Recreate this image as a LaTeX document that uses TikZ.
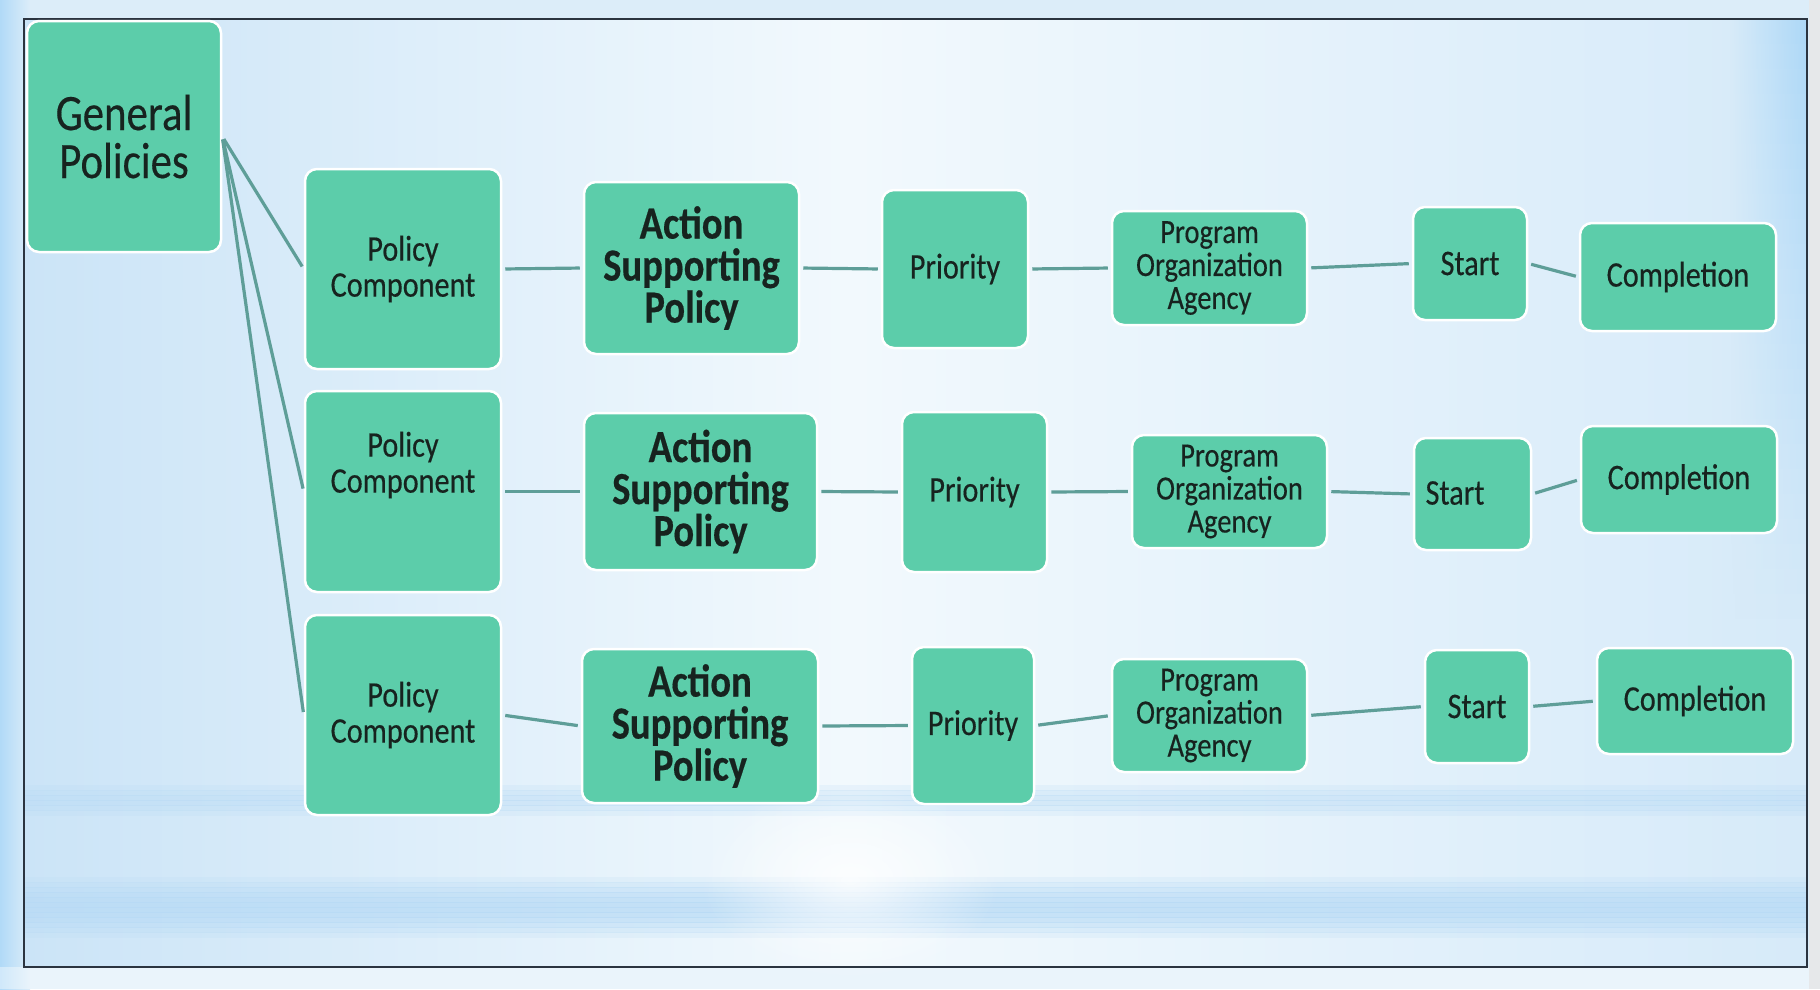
\documentclass[tikz,border=0pt]{standalone}
\usepackage{fontspec}
\setmainfont{Carlito}[FakeStretch=0.84, FakeBold=0.35]
\usetikzlibrary{fadings,calc}
\definecolor{boxfill}{HTML}{5CCDAA}
\definecolor{linecol}{HTML}{5E9E98}
\definecolor{txt}{HTML}{17231F}
\definecolor{pagebg}{HTML}{DCEDF9}
\definecolor{inleft}{HTML}{CBE4F7}
\definecolor{inmid}{HTML}{F2F9FD}
\definecolor{inright}{HTML}{D6EAF9}
\definecolor{bandblue}{HTML}{B7DAF5}
\definecolor{edgeblue}{HTML}{A6D5F7}
\definecolor{rightgray}{HTML}{E6E8EA}
\definecolor{framecol}{HTML}{2B3440}
\tikzfading[name=edgefade, left color=transparent!100, right color=transparent!0]
\tikzfading[name=centerfade, inner color=transparent!0, outer color=transparent!100]
\newcommand{\fsreg}{\fontsize{36}{36}\selectfont}
\newcommand{\fspoa}{\fontsize{34}{33}\selectfont}
\newcommand{\fsasp}{\fontsize{46}{42}\selectfont\bfseries}
\newcommand{\fsgp}{\fontsize{51}{48}\selectfont}
\begin{document}
\begin{tikzpicture}[x=1pt,y=-1pt,
  box/.style={rounded corners=12pt, fill=boxfill, draw=white, line width=2.5pt,
    inner sep=0pt, align=center, text=txt, font=\fsreg},
  conn/.style={draw=linecol, line width=3.2pt, shorten <=3pt, shorten >=3pt},
  bare/.style={inner sep=0pt, align=center, text=txt}]
% background
\useasboundingbox (0,0) rectangle (1820,989);
\fill[pagebg] (0,0) rectangle (1820,989);
\shade[left color=edgeblue!80!pagebg, right color=pagebg] (0,0) rectangle (30,989);
\fill[white, opacity=0.4] (0,967) rectangle (1820,989);
\fill[rightgray] (1809,0) rectangle (1820,989);
\shade[left color=inleft, right color=inmid] (24,19) rectangle (850,967);
\shade[left color=inmid, right color=inright] (850,19) rectangle (1807,967);
% right edge glow, fading downwards
\foreach \k in {0,...,23}{
  \pgfmathsetmacro{\op}{0.85*(1-\k/24)}
  \fill[edgeblue, opacity=\op, path fading=edgefade] (1730,19+25*\k) rectangle (1807,44+25*\k);
}
% soft bottom bands
\foreach \k in {0,...,13}{
  \pgfmathsetmacro{\op}{0.75*sin(\k*180/13)}
  \shade[opacity=\op, left color=bandblue, middle color=inmid, right color=bandblue]
    (24,872+5*\k) rectangle (1807,877+5*\k);
}
\foreach \k in {0,...,7}{
  \pgfmathsetmacro{\op}{0.45*sin(\k*180/7)}
  \shade[opacity=\op, left color=bandblue, middle color=inmid, right color=bandblue]
    (24,780+5*\k) rectangle (1807,785+5*\k);
}
\fill[white, opacity=0.8, path fading=centerfade] (850,880) ellipse (150 and 100);
\draw[framecol, line width=2pt] (24,19) rectangle (1807,967);
% general
\node[box, font=\fsgp, minimum width=194pt, minimum height=231pt] (gp) at (124,136.5) {General\\Policies};
% row 1
\node[box, minimum width=196pt, minimum height=200pt] (pc1) at (403,269) {Policy\\Component};
\node[box, font=\fsasp, minimum width=215pt, minimum height=172pt] (asp1) at (691.5,268) {Action\\Supporting\\Policy};
\node[box, minimum width=146pt, minimum height=158pt] (pr1) at (955,269) {Priority};
\node[box, font=\fspoa, minimum width=195pt, minimum height=114pt] (poa1) at (1209.5,268) {Program\\Organization\\Agency};
\node[box, minimum width=114pt, minimum height=113pt] (st1) at (1470,263.5) {Start};
\node[box, minimum width=196pt, minimum height=108pt] (co1) at (1678,277) {Completion};
% row 2
\node[box, minimum width=196pt, minimum height=201pt] (pc2) at (403,491.5) {};
\node[bare, font=\fsreg] (pc2t) at (403,465) {Policy\\Component};
\node[box, font=\fsasp, minimum width=233pt, minimum height=157pt] (asp2) at (700.5,491.5) {Action\\Supporting\\Policy};
\node[box, minimum width=145pt, minimum height=160pt] (pr2) at (974.5,492) {Priority};
\node[box, font=\fspoa, minimum width=195pt, minimum height=113pt] (poa2) at (1229.5,491.5) {Program\\Organization\\Agency};
\node[box, minimum width=117pt, minimum height=112pt] (st2) at (1472.5,494) {};
\node[bare, font=\fsreg] (st2t) at (1455,493) {Start};
\node[box, minimum width=196pt, minimum height=107pt] (co2) at (1679,479.5) {Completion};
% row 3
\node[box, minimum width=196pt, minimum height=200pt] (pc3) at (403,715) {Policy\\Component};
\node[box, font=\fsasp, minimum width=236pt, minimum height=154pt] (asp3) at (700,726) {Action\\Supporting\\Policy};
\node[box, minimum width=122pt, minimum height=157pt] (pr3) at (973,725.5) {Priority};
\node[box, font=\fspoa, minimum width=195pt, minimum height=113pt] (poa3) at (1209.5,715.5) {Program\\Organization\\Agency};
\node[box, minimum width=104pt, minimum height=113pt] (st3) at (1477,706.5) {Start};
\node[box, minimum width=196pt, minimum height=106pt] (co3) at (1695,701) {Completion};
% connectors
\draw[conn] (gp.east) -- (pc1.west);
\draw[conn] (gp.east) -- (pc2.west);
\draw[conn] (gp.east) -- (pc3.west);
\foreach \r in {1,2,3}{
  \draw[conn] (pc\r.east) -- (asp\r.west);
  \draw[conn] (asp\r.east) -- (pr\r.west);
  \draw[conn] (pr\r.east) -- (poa\r.west);
  \draw[conn] (poa\r.east) -- (st\r.west);
  \draw[conn] (st\r.east) -- (co\r.west);
}
\end{tikzpicture}
\end{document}
